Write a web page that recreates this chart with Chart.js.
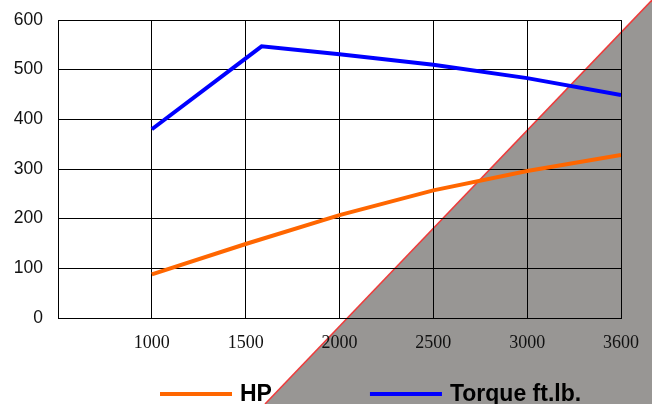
<!DOCTYPE html>
<html>
<head>
<meta charset="utf-8">
<script src="https://cdn.jsdelivr.net/npm/chart.js@4"></script>
<style>
  html, body { margin: 0; padding: 0; background: #fff; }
  #wrap { width: 652px; height: 404px; }
</style>
</head>
<body>
<div id="wrap"><canvas id="myChart" width="652" height="404"></canvas></div>
<script>
// rpm labels on the x axis (first slot has no label)
const rpmLabels = ['', '1000', '1500', '2000', '2500', '3000', '3600'];
const yTicks = [0, 100, 200, 300, 400, 500, 600];

// HP curve (x = slot on the rpm axis)
const hpAt = [1, 2, 3, 4, 5, 6];
const hpValues = [88, 149, 207, 257, 296, 328];

// Torque curve
const torqueAt = [1, 2.17, 3, 4, 5, 6];
const torqueValues = [380, 547, 531, 510, 483, 449];

const toPoints = (xs, ys) => xs.map((x, i) => ({ x: x, y: ys[i] }));

// white page with the grey folded corner behind the chart
const backdrop = {
    id: 'backdrop',
    beforeDraw(chart) {
        const c = chart.ctx;
        const w = chart.width, h = chart.height;
        c.save();
        c.fillStyle = '#ffffff';
        c.fillRect(0, 0, w, h);
        c.beginPath();
        c.moveTo(265, h);
        c.lineTo(w + 1, -1);
        c.lineTo(w + 1, h);
        c.closePath();
        c.fillStyle = '#989694';
        c.fill();
        c.beginPath();
        c.moveTo(265, h);
        c.lineTo(w + 1, -1);
        c.strokeStyle = '#ee3b3b';
        c.lineWidth = 1.5;
        c.stroke();
        c.restore();
    }
};

// legend drawn as line + bold label, spaced like the original
const lineLegend = {
    id: 'lineLegend',
    afterDraw(chart) {
        const c = chart.ctx;
        let x = 160;
        const y = 394;
        c.save();
        c.font = 'bold 23px "Liberation Sans", Arial, sans-serif';
        c.textBaseline = 'middle';
        chart.data.datasets.forEach(ds => {
            c.beginPath();
            c.moveTo(x, y);
            c.lineTo(x + 72, y);
            c.strokeStyle = ds.borderColor;
            c.lineWidth = 4;
            c.stroke();
            c.fillStyle = '#000';
            c.fillText(ds.label, x + 80, y + 1);
            x += 80 + c.measureText(ds.label).width + 98;
        });
        c.restore();
    }
};

const ctx = document.getElementById('myChart').getContext('2d');
const myChart = new Chart(ctx, {
    type: 'line',
    data: {
        datasets: [{
            label: 'HP',
            data: toPoints(hpAt, hpValues),
            borderColor: '#ff6600',
            borderWidth: 4,
            pointRadius: 0,
            tension: 0
        },
        {
            label: 'Torque ft.lb.',
            data: toPoints(torqueAt, torqueValues),
            borderColor: '#0000ff',
            borderWidth: 4,
            pointRadius: 0,
            tension: 0
        }]
    },
    options: {
        responsive: false,
        animation: false,
        layout: { padding: { top: 20, right: 31, bottom: 0, left: 0 } },
        plugins: {
            legend: { display: false },
            tooltip: { enabled: false }
        },
        scales: {
            x: {
                type: 'linear',
                min: 0,
                max: rpmLabels.length - 1,
                afterBuildTicks: axis => {
                    axis.ticks = rpmLabels.map((l, i) => ({ value: i }));
                },
                afterFit: axis => {
                    axis.height = 86;
                    axis.paddingLeft = 0;
                    axis.paddingRight = 0;
                },
                ticks: {
                    callback: v => rpmLabels[v],
                    color: '#111',
                    font: { family: '"Liberation Serif", "Times New Roman", serif', size: 18 },
                    padding: 14,
                    maxRotation: 0,
                    autoSkip: false
                },
                grid: { color: '#000', lineWidth: 1, drawTicks: false },
                border: { color: '#000', width: 1 }
            },
            y: {
                min: 0,
                max: 600,
                afterBuildTicks: axis => {
                    axis.ticks = yTicks.map(v => ({ value: v }));
                },
                afterFit: axis => {
                    axis.width = 58;
                    axis.paddingTop = 0;
                    axis.paddingBottom = 0;
                },
                ticks: {
                    color: '#111',
                    font: { family: '"Liberation Sans", Arial, sans-serif', size: 17.5 },
                    padding: 15
                },
                grid: { color: '#000', lineWidth: 1, drawTicks: false },
                border: { color: '#000', width: 1 }
            }
        }
    },
    plugins: [backdrop, lineLegend]
});
</script>
</body>
</html>
